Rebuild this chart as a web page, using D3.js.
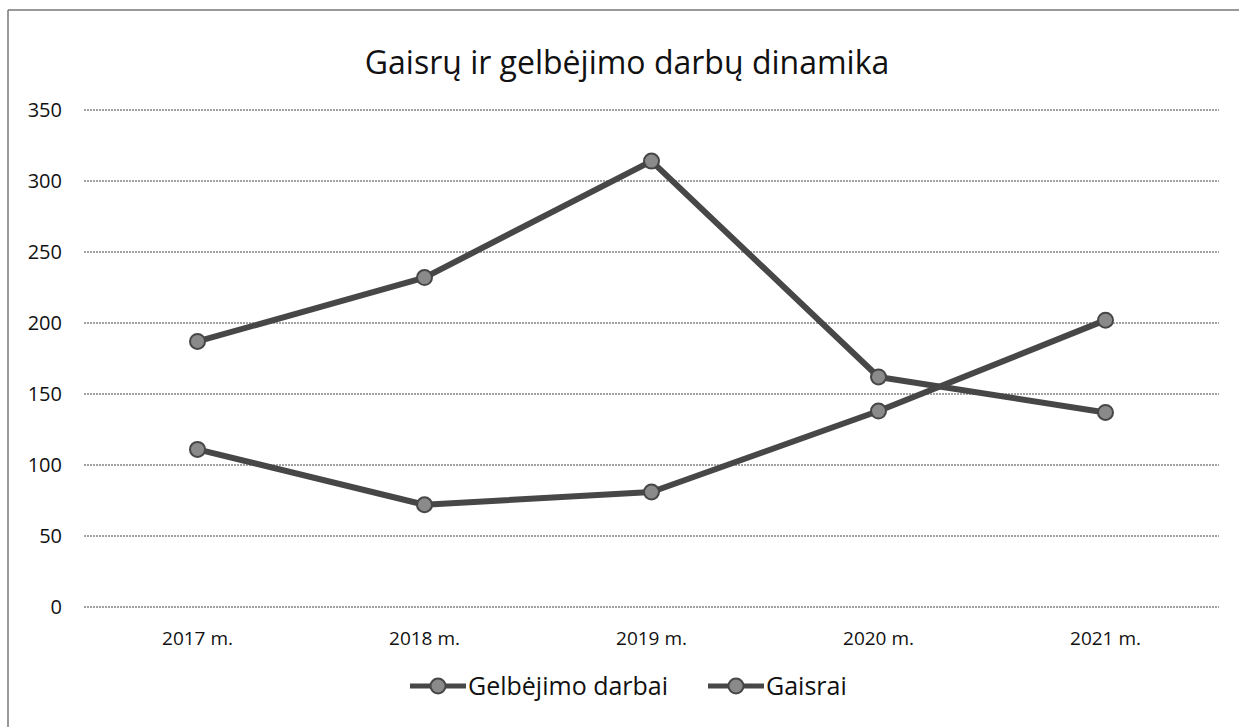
<!DOCTYPE html>
<html>
<head>
<meta charset="utf-8">
<script src="https://cdn.jsdelivr.net/npm/d3@7"></script>
<style>
  body { margin: 0; background: #fff; }
  svg text { font-family: "Open Sans", "Noto Sans", sans-serif; fill: #111; }
</style>
</head>
<body>
<svg id="chart" width="1239" height="727"></svg>
<script>
// chart data
const years = ["2017 m.", "2018 m.", "2019 m.", "2020 m.", "2021 m."];
const gelbejimoDarbai = [187, 232, 314, 162, 137];
const gaisrai = [111, 72, 81, 138, 202];
const yTicks = [0, 50, 100, 150, 200, 250, 300, 350];
const seriesNames = ["Gelbėjimo darbai", "Gaisrai"];

const svg = d3.select("#chart");
const W = 1239, H = 727;

// frame of the chart (left and top edge visible in the scan)
svg.append("line").attr("x1", 8).attr("x2", 8).attr("y1", 10).attr("y2", H)
    .attr("stroke", "#777").attr("stroke-width", 1.5);
svg.append("line").attr("x1", 8).attr("x2", W).attr("y1", 10).attr("y2", 10)
    .attr("stroke", "#777").attr("stroke-width", 1.5);

const margin = {left: 84, right: 20, top: 110, bottom: 120};

let x = d3.scaleBand().domain(years).range([margin.left, W - margin.right]);
let y = d3.scaleLinear().domain([0, 350]).range([H - margin.bottom, margin.top]);

// gridlines
svg.append("g").selectAll("line").data(yTicks).join("line")
    .attr("x1", margin.left).attr("x2", W - margin.right)
    .attr("y1", d => y(d)).attr("y2", d => y(d))
    .attr("stroke", "#444").attr("stroke-width", 1)
    .attr("stroke-dasharray", "2,1");

// y axis labels
let yAxis = d3.axisLeft(y).tickValues(yTicks).tickSize(0).tickPadding(0);
let gy = svg.append("g").attr("transform", `translate(${margin.left - 22},0)`).call(yAxis);
gy.select(".domain").remove();
gy.selectAll("text").attr("font-size", 20).attr("fill", "#111")
    .style("font-family", "'Open Sans', sans-serif");

// x axis labels
let xAxis = d3.axisBottom(x).tickSize(0).tickPadding(0);
let gx = svg.append("g").attr("transform", `translate(0,${y(0) + 24})`).call(xAxis);
gx.select(".domain").remove();
gx.selectAll("text").attr("font-size", 19).attr("fill", "#111")
    .style("font-family", "'Open Sans', sans-serif");

// title
svg.append("text").attr("x", 627).attr("y", 74).attr("text-anchor", "middle")
    .attr("font-size", 32).text("Gaisrų ir gelbėjimo darbų dinamika");

const cx = d => x(d) + x.bandwidth() / 2;
const line = d3.line().x(d => cx(d.year)).y(d => y(d.value));

const series = [gelbejimoDarbai, gaisrai].map((vals, i) => ({
    name: seriesNames[i],
    points: years.map((yr, j) => ({year: yr, value: vals[j]}))
}));

series.forEach(s => {
    svg.append("path").datum(s.points)
        .attr("d", line)
        .attr("fill", "none")
        .attr("stroke", "#474747")
        .attr("stroke-width", 6)
        .attr("stroke-linejoin", "round");
    svg.append("g").selectAll("circle").data(s.points).join("circle")
        .attr("cx", d => cx(d.year)).attr("cy", d => y(d.value))
        .attr("r", 7.5)
        .attr("fill", "#8a8a8a")
        .attr("stroke", "#474747").attr("stroke-width", 2);
});

// legend
const legendY = 686;
const legendItems = [{x: 410}, {x: 708}];
legendItems.forEach((it, i) => {
    let g = svg.append("g").attr("transform", `translate(${it.x},${legendY})`);
    g.append("line").attr("x1", 0).attr("x2", 56).attr("y1", 0).attr("y2", 0)
        .attr("stroke", "#474747").attr("stroke-width", 5);
    g.append("circle").attr("cx", 28).attr("cy", 0).attr("r", 7.5)
        .attr("fill", "#8a8a8a").attr("stroke", "#474747").attr("stroke-width", 2);
    g.append("text").attr("x", 58).attr("y", 0).attr("dy", "0.35em")
        .attr("font-size", 25).text(seriesNames[i]);
});
</script>
</body>
</html>
